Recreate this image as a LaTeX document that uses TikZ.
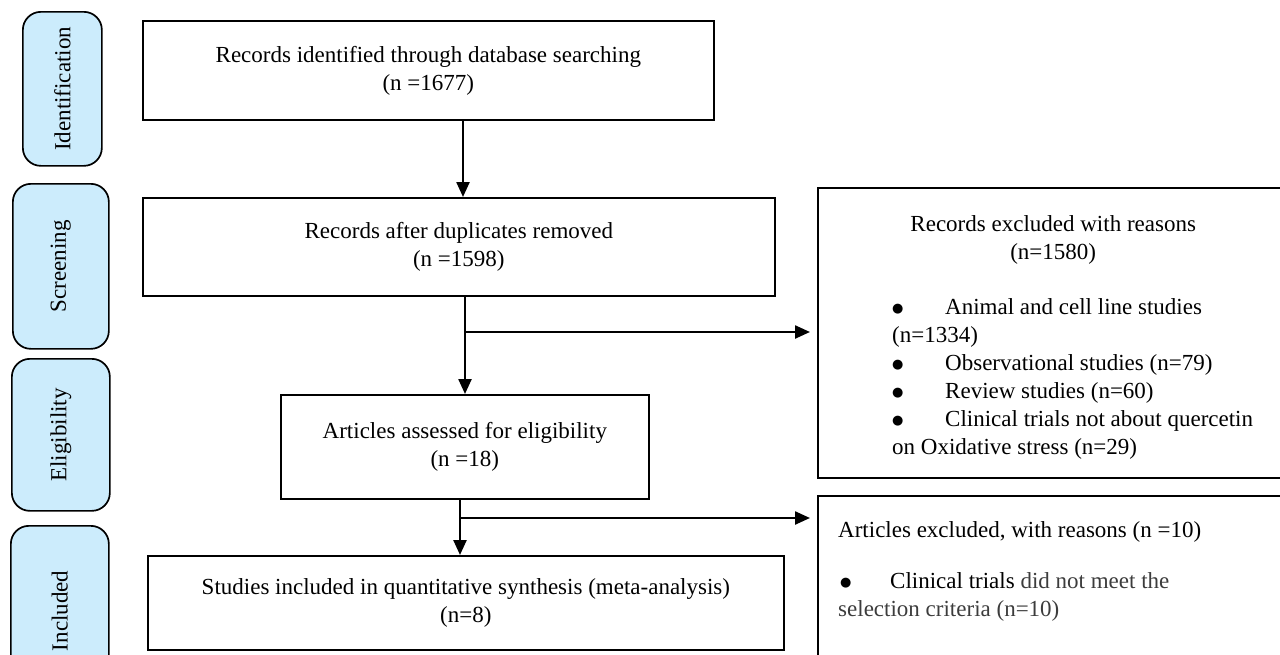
\documentclass[tikz,border=0pt]{standalone}
\usepackage{fontspec}
\setmainfont{Liberation Serif}
\newfontfamily\symfont{DejaVu Sans}
\usepackage{graphicx}
\usetikzlibrary{arrows.meta}
\definecolor{lblue}{RGB}{204,236,252}
\definecolor{dgray}{RGB}{60,60,60}
\newcommand{\bul}{\raisebox{1.5pt}{\symfont\fontsize{13}{13}\selectfont ●}}
\begin{document}
\begin{tikzpicture}[x=1pt,y=-1pt,
  font=\fontsize{23}{28}\selectfont,
  box/.style={draw, line width=1.7pt, inner sep=0pt, anchor=north west, align=center},
  side/.style={draw, line width=1.7pt, fill=lblue, rounded corners=18pt, anchor=north west, inner sep=0pt},
  txt/.style={anchor=north west, inner sep=0pt, align=left},
  arr/.style={line width=2.4pt, -{Triangle[width=13pt,length=15pt]}},
  ln/.style={line width=2.4pt}]
\useasboundingbox (0,0) rectangle (1280,654);
\clip (0,0) rectangle (1280,654);
% phase labels
\node[side, minimum width=79pt, minimum height=154pt] (ident) at (22,11) {\rotatebox{90}{Identification}};
\node[side, minimum width=96pt, minimum height=165pt] (screen) at (12,183) {\rotatebox{90}{Screening}};
\node[side, minimum width=98pt, minimum height=152pt] (elig) at (11,358) {\rotatebox{90}{Eligibility}};
\node[side, minimum width=98pt, minimum height=170pt] (incl) at (10,525) {\rotatebox{90}{Included}};
% main boxes
\node[box, minimum width=571pt, minimum height=99pt] (b1) at (142,20) {Records identified through database searching\\(n =1677)};
\node[box, minimum width=632pt, minimum height=98pt] (b2) at (142,197) {Records after duplicates removed\\(n =1598)};
\node[box, minimum width=368pt, minimum height=104pt] (b3) at (280,394) {Articles assessed for eligibility\\(n =18)};
\node[box, minimum width=636pt, minimum height=94pt] (b4) at (147,555) {Studies included in quantitative synthesis (meta-analysis)\\(n=8)};
% right boxes
\node[box, minimum width=480pt, minimum height=290pt] (rb1) at (817,187) {};
\node[box, minimum width=480pt, minimum height=200pt] (rb2) at (817,495) {};
\node[txt] (rb1t) at (892,215) {\makebox[322pt][c]{Records excluded with reasons}\\
\makebox[322pt][c]{(n=1580)}\\[27pt]
\makebox[53pt][l]{\bul}Animal and cell line studies\\
(n=1334)\\
\makebox[53pt][l]{\bul}Observational studies (n=79)\\
\makebox[53pt][l]{\bul}Review studies (n=60)\\
\makebox[53pt][l]{\bul}Clinical trials not about quercetin\\
on Oxidative stress (n=29)};
\node[txt] (rb2t) at (838,521) {Articles excluded, with reasons (n =10)\\[23pt]
\makebox[52pt][l]{\hspace{2pt}\bul}Clinical trials {\color{dgray}did not meet the}\\
{\color{dgray}selection criteria (n=10)}};
% connectors
\coordinate (x1) at (463,0);
\draw[arr] (b1.south -| x1) -- (b2.north -| x1);
\coordinate (j1) at (465,332);
\draw[ln] (b2.south -| j1) -- (j1);
\draw[arr] (j1) -- (b3.north -| j1);
\draw[arr, shorten >=7pt] (j1) -- (j1 -| rb1.west);
\coordinate (j2) at (460,518);
\draw[ln] (b3.south -| j2) -- (j2);
\draw[arr] (j2) -- (b4.north -| j2);
\draw[arr, shorten >=7pt] (j2) -- (j2 -| rb2.west);
\end{tikzpicture}
\end{document}
